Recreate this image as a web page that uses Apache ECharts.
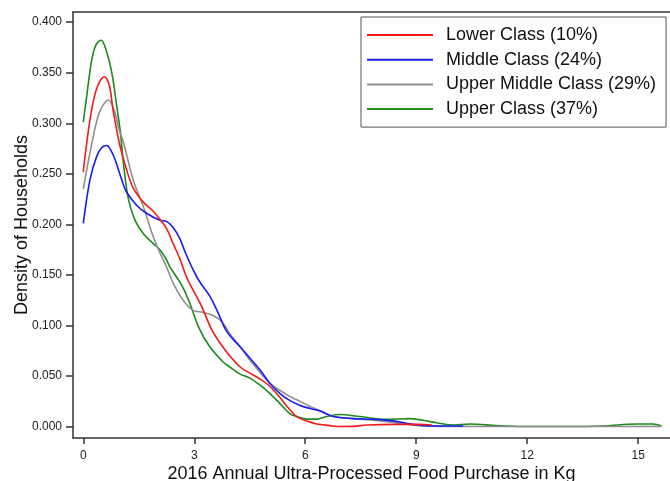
<!DOCTYPE html>
<html>
<head>
<meta charset="utf-8">
<script src="https://cdn.jsdelivr.net/npm/echarts@6/dist/echarts.min.js"></script>
<style>
  html, body { margin: 0; padding: 0; background: #fff; }
  #chart { width: 670px; height: 481px; }
</style>
</head>
<body>
<div id="chart"></div>
<script>
// ---- Data ----
const seriesNames = ['Lower Class (10%)', 'Middle Class (24%)', 'Upper Middle Class (29%)', 'Upper Class (37%)'];

const lowerX = [0, 0.18, 0.35, 0.57, 0.70, 0.81, 0.99, 1.17, 1.35, 1.62, 1.89, 2.07, 2.25, 2.43, 2.61, 2.79, 2.97, 3.2, 3.47, 3.75, 3.96, 4.24, 4.5, 4.78, 5.04, 5.31, 5.58, 5.77, 6.04, 6.31, 6.67, 6.85, 7.3, 7.66, 8.47, 9.1, 9.42];
const lowerY = [0.252, 0.303, 0.333, 0.346, 0.338, 0.312, 0.278, 0.254, 0.236, 0.222, 0.213, 0.205, 0.196, 0.181, 0.166, 0.148, 0.135, 0.119, 0.096, 0.080, 0.070, 0.059, 0.053, 0.047, 0.040, 0.029, 0.017, 0.010, 0.0055, 0.0027, 0.001, 0.0002, 0.0003, 0.0017, 0.0023, 0.0023, 0.0017];

const middleX = [0, 0.18, 0.36, 0.5, 0.63, 0.75, 0.86, 1.04, 1.17, 1.44, 1.71, 2.07, 2.25, 2.43, 2.61, 2.75, 2.97, 3.15, 3.42, 3.65, 3.88, 4.24, 4.5, 4.78, 5.04, 5.31, 5.58, 5.86, 6.13, 6.4, 6.76, 7.3, 7.84, 8.38, 8.92, 9.37, 10.27];
const middleY = [0.201, 0.244, 0.267, 0.276, 0.278, 0.273, 0.264, 0.244, 0.232, 0.219, 0.211, 0.204, 0.203, 0.197, 0.186, 0.173, 0.155, 0.143, 0.129, 0.112, 0.094, 0.079, 0.068, 0.056, 0.043, 0.033, 0.026, 0.021, 0.018, 0.0155, 0.010, 0.008, 0.0073, 0.0057, 0.0023, 0.0007, 0.0007];

const upperMiddleX = [0, 0.27, 0.45, 0.68, 0.86, 0.97, 1.08, 1.35, 1.62, 1.89, 2.07, 2.25, 2.43, 2.70, 2.97, 3.24, 3.51, 3.74, 3.96, 4.24, 4.5, 5.04, 5.31, 5.58, 5.86, 6.13, 6.4, 6.76, 7.3, 8.2, 9.1, 10.0, 12.0, 14.0, 15.63];
const upperMiddleY = [0.235, 0.287, 0.312, 0.323, 0.310, 0.293, 0.282, 0.244, 0.218, 0.188, 0.172, 0.158, 0.142, 0.125, 0.115, 0.113, 0.110, 0.104, 0.092, 0.079, 0.066, 0.043, 0.036, 0.030, 0.025, 0.020, 0.016, 0.010, 0.008, 0.005, 0.001, 0.0003, 0.0002, 0.0002, 0.0003];

const upperX = [0, 0.09, 0.23, 0.35, 0.48, 0.62, 0.77, 0.90, 1.01, 1.08, 1.22, 1.40, 1.62, 1.89, 2.07, 2.25, 2.34, 2.66, 2.88, 3.11, 3.42, 3.78, 3.96, 4.24, 4.5, 4.78, 5.04, 5.31, 5.58, 5.77, 6.04, 6.31, 6.58, 6.94, 7.48, 8.2, 8.83, 9.37, 10.0, 10.45, 11.17, 11.8, 13.0, 14.05, 14.96, 15.4, 15.63];
const upperY = [0.301, 0.326, 0.363, 0.378, 0.382, 0.372, 0.350, 0.318, 0.289, 0.262, 0.225, 0.204, 0.191, 0.181, 0.175, 0.165, 0.158, 0.140, 0.122, 0.099, 0.079, 0.064, 0.059, 0.052, 0.048, 0.041, 0.033, 0.023, 0.013, 0.010, 0.0075, 0.0075, 0.010, 0.012, 0.010, 0.0073, 0.008, 0.005, 0.0017, 0.0026, 0.001, 0.0002, 0.0002, 0.0007, 0.0027, 0.0027, 0.001];

const xTicks = [0, 3, 6, 9, 12, 15];
const yTicks = [0, 0.05, 0.1, 0.15, 0.2, 0.25, 0.3, 0.35, 0.4];

const xTitle = '2016 Annual Ultra-Processed Food Purchase in Kg';
const yTitle = 'Density of Households';

// ---- Styling ----
const colors = ['#f41a1a', '#1a1af2', '#8f8f8f', '#1c8a1c'];
const FONT = '"Liberation Sans", Arial, sans-serif';
const X_MIN = -0.278, X_MAX = 15.86;
const Y_MIN = -0.0112, Y_MAX = 0.410;

const pairs = (xs, ys) => xs.map((x, i) => [x, ys[i]]);
const allData = [pairs(lowerX, lowerY), pairs(middleX, middleY), pairs(upperMiddleX, upperMiddleY), pairs(upperX, upperY)];

const chart = echarts.init(document.getElementById('chart'), null, { renderer: 'canvas' });

const axisLineStyle = { color: '#333', width: 1.5 };

chart.setOption({
  animation: false,
  backgroundColor: '#fff',
  textStyle: { fontFamily: FONT },
  grid: { left: 73, top: 12, right: 0, bottom: 43, containLabel: false, outerBoundsMode: 'none' },
  legend: {
    orient: 'vertical',
    left: 361,
    top: 17,
    padding: [8, 10, 8, 6],
    itemGap: 4.7,
    itemWidth: 66,
    itemHeight: 2,
    icon: 'rect',
    borderColor: '#555',
    borderWidth: 1,
    backgroundColor: '#fff',
    textStyle: { fontFamily: FONT, fontSize: 18, color: '#111', lineHeight: 20, padding: [0, 0, 0, 8] },
    data: seriesNames
  },
  xAxis: [{
    type: 'value',
    min: X_MIN,
    max: X_MAX,
    name: xTitle,
    nameLocation: 'middle',
    nameGap: 27,
    nameMoveOverlap: false,
    nameTextStyle: { fontFamily: FONT, fontSize: 18, color: '#111' },
    axisLine: { show: true, onZero: false, lineStyle: axisLineStyle },
    axisTick: { show: true, length: 6, customValues: xTicks, lineStyle: axisLineStyle },
    axisLabel: { customValues: xTicks, margin: 12, fontFamily: FONT, fontSize: 12, color: '#222' },
    splitLine: { show: false }
  }, {
    type: 'value',
    position: 'top',
    min: X_MIN,
    max: X_MAX,
    axisLine: { show: true, onZero: false, lineStyle: axisLineStyle },
    axisTick: { show: false },
    axisLabel: { show: false },
    splitLine: { show: false }
  }],
  yAxis: {
    type: 'value',
    min: Y_MIN,
    max: Y_MAX,
    name: yTitle,
    nameLocation: 'middle',
    nameGap: 42,
    nameMoveOverlap: false,
    nameTextStyle: { fontFamily: FONT, fontSize: 18, color: '#111' },
    axisLine: { show: true, onZero: false, lineStyle: axisLineStyle },
    axisTick: { show: true, length: 7, customValues: yTicks, lineStyle: axisLineStyle },
    axisLabel: { customValues: yTicks, margin: 11, fontFamily: FONT, fontSize: 12, color: '#222', formatter: v => v.toFixed(3) },
    splitLine: { show: false }
  },
  series: seriesNames.map((name, i) => ({
    name,
    type: 'line',
    xAxisIndex: 0,
    data: allData[i],
    smooth: 0.35,
    showSymbol: false,
    symbol: 'none',
    color: colors[i],
    lineStyle: { color: colors[i], width: 1.6 },
    z: 2 + (3 - i)
  }))
});
</script>
</body>
</html>
